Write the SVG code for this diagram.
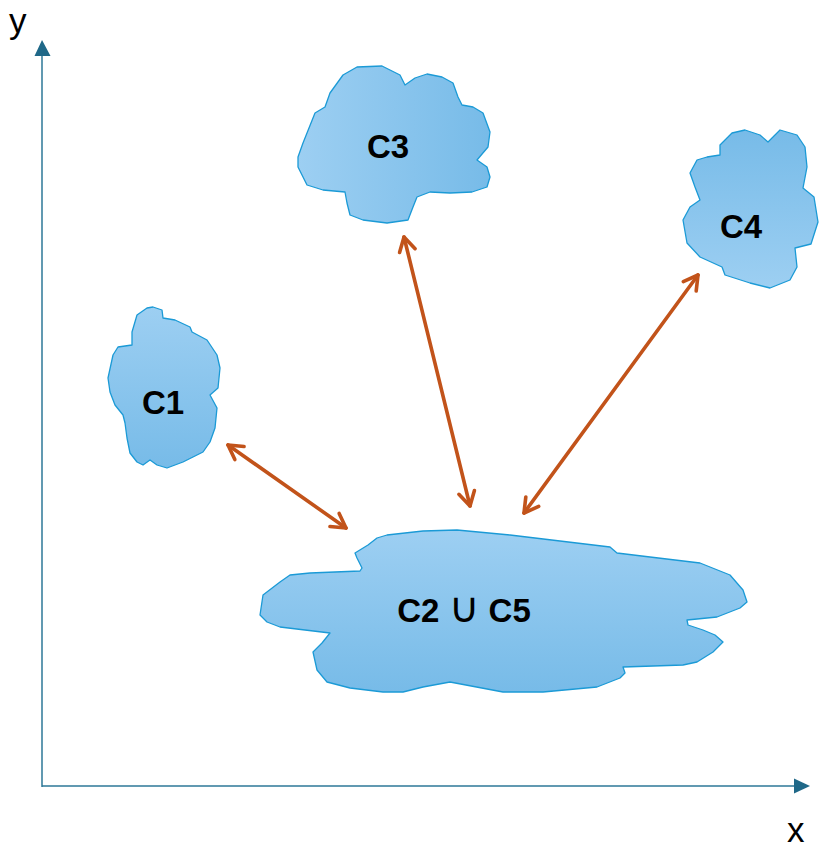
<svg xmlns="http://www.w3.org/2000/svg" width="819" height="850" viewBox="0 0 819 850">
<style>
.cloud{stroke:#1b9ad6;stroke-width:1.3;stroke-linejoin:round}
.lbl{font-family:"Liberation Sans",Arial,sans-serif;font-weight:bold;font-size:33px;fill:#000;text-anchor:middle}
.ax{stroke:#2c7797;stroke-width:1.5;fill:none}
.axlbl{font-family:"Liberation Sans",Arial,sans-serif;font-size:35px;fill:#000}
.conn{stroke:#c2531a;stroke-width:3.6;fill:none;stroke-linecap:round;marker-start:url(#oa);marker-end:url(#oa)}
</style>
<defs>
<linearGradient id="gh" x1="0" y1="0" x2="1" y2="0"><stop offset="0" stop-color="#9dcff2"/><stop offset="1" stop-color="#77bbe8"/></linearGradient>
<linearGradient id="gv" x1="0" y1="0" x2="0" y2="1"><stop offset="0" stop-color="#9dcff2"/><stop offset="1" stop-color="#77bbe8"/></linearGradient>
<linearGradient id="gvr" x1="0" y1="0" x2="0" y2="1"><stop offset="0" stop-color="#77bbe8"/><stop offset="1" stop-color="#9dcff2"/></linearGradient>
<marker id="oa" markerUnits="userSpaceOnUse" viewBox="-20 -12 24 24" refX="0" refY="0" markerWidth="24" markerHeight="24" orient="auto-start-reverse">
<path d="M-14,-8 L0,0 L-14,8" fill="none" stroke="#c2531a" stroke-width="3.6" stroke-linecap="round" stroke-linejoin="round"/>
</marker>
</defs>
<g id="axes">
<line class="ax" x1="42" y1="787" x2="42" y2="56"/>
<path d="M34.5,56 L42,40 L50.5,56 Z" fill="#1f6888"/>
<line class="ax" x1="42" y1="786" x2="795" y2="786"/>
<path d="M794,778.5 L810,786 L794,793.5 Z" fill="#1f6888"/>
<text class="axlbl" x="9" y="33">y</text>
<text class="axlbl" x="787" y="842">x</text>
</g>
<g id="C3">
<path class="cloud" fill="url(#gh)" d="M357,67 L382,66 L400,75 L405,85 L415,78 L427,74 L442,77 L453,83 L458,97 L462,105 L473,107 L483,113 L490,132 L488,147 L477,160 L487,167 L490,177 L487,187 L472,192 L450,193 L430,192 L417,197 L413,207 L408,220 L387,223 L363,220 L350,215 L347,203 L345,192 L323,190 L307,185 L298,167 L298,157 L303,143 L315,113 L325,107 L330,93 L343,75 Z"/>
<text class="lbl" x="388" y="158">C3</text>
</g>
<g id="C4">
<path class="cloud" fill="url(#gvr)" d="M720,145 L732,133 L745,130 L760,135 L768,142 L780,130 L797,135 L805,147 L807,167 L803,188 L814,197 L818,222 L811,244 L795,248 L797,267 L790,280 L770,288 L750,283 L725,275 L722,267 L700,257 L687,243 L683,220 L690,207 L700,200 L695,187 L690,173 L697,160 L707,157 L720,155 Z"/>
<text class="lbl" x="741" y="238">C4</text>
</g>
<g id="C1">
<path class="cloud" fill="url(#gv)" d="M137,315 L147,308 L153,307 L162,310 L163,318 L175,320 L190,327 L192,332 L207,340 L217,355 L220,368 L218,388 L210,395 L217,408 L215,428 L210,442 L203,452 L193,457 L183,462 L167,468 L157,465 L150,460 L143,465 L137,462 L130,453 L127,438 L125,423 L123,415 L115,405 L110,392 L108,378 L113,355 L118,347 L132,345 L132,332 Z"/>
<text class="lbl" x="163" y="414">C1</text>
</g>
<g id="C2C5">
<path class="cloud" fill="url(#gv)" d="M377,538 L387,535 L423,531 L457,530 L510,535 L610,547 L617,553 L650,557 L700,563 L730,575 L743,590 L747,602 L740,608 L717,617 L687,620 L688,625 L703,630 L715,635 L723,642 L713,652 L697,662 L683,665 L623,667 L625,673 L620,678 L597,687 L543,692 L503,692 L450,682 L423,687 L403,692 L383,692 L350,688 L327,682 L317,670 L313,652 L322,643 L330,633 L305,630 L280,627 L267,622 L260,615 L263,595 L280,582 L290,575 L310,573 L360,571 L362,568 L357,558 L355,553 L368,545 Z"/>
<text class="lbl" x="464" y="622">C2 <tspan font-weight="normal" font-family="DejaVu Sans, sans-serif" font-size="42px">∪</tspan> C5</text>
</g>
<g id="connectors">
<line class="conn" x1="228" y1="445" x2="346" y2="528"/>
<line class="conn" x1="404" y1="237" x2="470" y2="506"/>
<line class="conn" x1="698" y1="275" x2="524" y2="513"/>
</g>
</svg>
